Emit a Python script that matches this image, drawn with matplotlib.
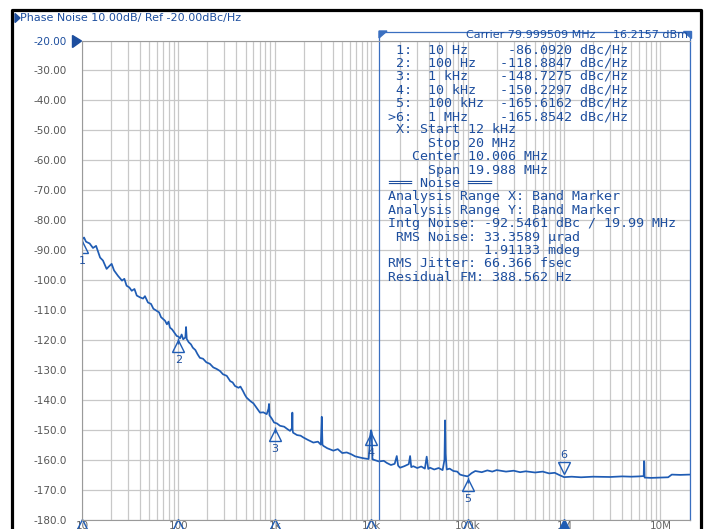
import numpy as np
import matplotlib.pyplot as plt
from matplotlib.transforms import offset_copy
from matplotlib.lines import Line2D
from matplotlib.patches import Polygon

# phase noise trace (Hz, dBc/Hz)
freq = [10, 10.5, 11, 12, 13, 14, 15.4, 16.5, 18, 19, 20.3, 21.5, 23.6, 26, 27.5, 29, 31, 32.8,
        35, 37, 40, 43, 45, 48.3, 52, 55, 59.4, 63, 66, 72.6, 76, 79, 81.7, 86, 90, 96, 100,
        104, 108, 112, 118, 120, 122, 128, 135, 141, 150, 158, 167, 180, 195, 212, 230, 249,
        270, 290, 317, 345, 365, 386, 420, 440, 466, 490, 510, 560, 600, 650, 702, 760, 824,
        860, 871, 880, 930, 982, 1050, 1133, 1250, 1350, 1438, 1510, 1520, 1530, 1546, 1700,
        1850, 1977, 2200, 2508, 2800, 3000, 3067, 3120, 3186, 3500, 4045, 4500, 5000, 5570,
        6200, 6800, 7653, 8500, 9400, 9800, 9952, 10100, 10300, 10500, 12000, 13500, 14500,
        16000, 17500, 18400, 19000, 19900, 22000, 24500, 25300, 26000, 27300, 30000, 33000,
        36000, 37600, 39000, 40700, 45000, 50000, 55000, 57500, 58300, 59000, 60700, 65000,
        71100, 78000, 83400, 90000, 100000, 110000, 120000, 140000, 160000, 180000, 200000,
        250000, 300000, 350000, 400000, 500000, 600000, 700000, 800000, 900000, 1000000,
        1200000, 1500000, 2000000, 3000000, 4000000, 5000000, 6000000, 6700000, 6750000,
        6800000, 6850000, 8000000, 10000000, 12000000, 13100000, 16000000, 20000000]
level = [-86.5, -85.8, -87.2, -87.8, -89.3, -88.6, -92.5, -93.5, -96.3, -95.5, -94.6, -96.8,
         -98.6, -100.2, -99.6, -101.9, -102.5, -103.6, -103.0, -105.2, -105.8, -106.2, -105.4,
         -107.5, -108.0, -109.6, -110.3, -110.8, -112.4, -113.6, -114.8, -113.9, -115.9,
         -116.5, -117.4, -118.7, -118.9, -119.5, -118.2, -119.8, -119.2, -115.7, -119.7,
         -120.8, -121.5, -122.6, -123.4, -124.8, -126.0, -126.3, -127.5, -128.0, -129.2,
         -129.7, -130.4, -131.5, -132.0, -133.8, -134.2, -135.4, -136.0, -135.6, -137.0,
         -138.4, -139.3, -140.5, -141.2, -142.8, -144.3, -144.2, -144.8, -143.0, -141.4,
         -145.2, -146.3, -147.6, -147.9, -148.7, -149.0, -149.8, -150.4, -149.5, -144.3,
         -150.2, -151.0, -151.8, -152.0, -152.6, -153.4, -154.3, -154.0, -155.0, -145.7,
         -155.0, -155.4, -156.2, -157.0, -156.5, -157.8, -157.6, -158.2, -158.9, -159.3,
         -159.6, -159.8, -151.5, -150.2, -151.0, -159.9, -160.0, -160.6, -160.4, -161.1,
         -161.8, -161.4, -158.8, -162.0, -162.7, -162.2, -161.5, -158.8, -162.5, -162.2,
         -162.8, -162.3, -163.0, -159.0, -163.1, -162.7, -163.3, -162.8, -163.5, -160.0,
         -146.9, -158.0, -163.3, -163.0, -163.8, -164.0, -165.0, -165.3, -165.6, -164.5,
         -163.8, -164.2, -163.6, -164.0, -163.5, -164.0, -163.7, -164.2, -163.9, -164.3,
         -164.0, -164.6, -164.4, -165.2, -165.85, -165.7, -165.9, -165.7, -165.8, -165.6,
         -165.7, -165.6, -165.5, -160.5, -160.8, -166.0, -166.1, -166.0, -165.9, -165.0,
         -165.1, -165.0]

mk_num = ['1', '2', '3', '4', '5', '6']
mk_freq = [10, 100, 1e3, 10e3, 100e3, 1e6]
mk_level = [-86.0920, -118.8847, -148.7275, -150.2297, -165.6162, -165.8542]
mk_freq_txt = ['10 Hz', '100 Hz', '1 kHz', '10 kHz', '100 kHz', '1 MHz']

band = [12e3, 20e6]

y_ticks = list(range(-20, -181, -10))
y_labels = ['-20.00', '-30.00', '-40.00', '-50.00', '-60.00', '-70.00', '-80.00', '-90.00',
            '-100.0', '-110.0', '-120.0', '-130.0', '-140.0', '-150.0', '-160.0', '-170.0', '-180.0']
x_ticks = [10, 100, 1e3, 1e4, 1e5, 1e6, 1e7]
x_labels = ['10', '100', '1k', '10k', '100k', '1M', '10M']

info = [' X: Start 12 kHz',
        '     Stop 20 MHz',
        '   Center 10.006 MHz',
        '     Span 19.988 MHz',
        '\u2550\u2550\u2550 Noise \u2550\u2550\u2550',
        'Analysis Range X: Band Marker',
        'Analysis Range Y: Band Marker',
        'Intg Noise: -92.5461 dBc / 19.99 MHz',
        ' RMS Noise: 33.3589 \u00b5rad',
        '            1.91133 mdeg',
        'RMS Jitter: 66.366 fsec',
        'Residual FM: 388.562 Hz']

blue = '#1f5cb4'
tblue = '#1d4e9e'
grey = '#c8c8c8'
W, H = 704, 529

def px(x, y):
    return (x / W, 1 - y / H)

fig = plt.figure(figsize=(W / 100, H / 100), dpi=100)
ax = fig.add_axes([82 / W, 1 - 519.5 / H, (689.5 - 82) / W, (519.5 - 40.5) / H])
ax.set_xscale('log')
ax.set_xlim(10, 20e6)
ax.set_ylim(-180, -20)

ax.set_yticks(y_ticks, y_labels)
ax.set_xticks(x_ticks, x_labels)
ax.xaxis.set_minor_formatter(plt.NullFormatter())
ax.grid(True, which='both', axis='x', color=grey, lw=0.9)
ax.grid(True, which='major', axis='y', color=grey, lw=0.9)
ax.set_axisbelow(True)
ax.tick_params(which='both', length=0)
ax.tick_params(axis='y', pad=11, labelsize=7.5, labelcolor='#555555')
ax.tick_params(axis='x', pad=1, labelsize=7.5, labelcolor='#666666')
ax.get_yticklabels()[0].set_color(tblue)
for s in ['left', 'top', 'bottom']:
    ax.spines[s].set_color('#9a9a9a')
ax.spines['right'].set_visible(False)

ax.plot(freq, level, color=blue, lw=1.25)

# band marker box
top = -20 + 8.5 / 2.994
ax.plot([band[0], band[0], band[1], band[1]], [-180, top, top, -180], color='#3a6fc0',
        lw=0.9, clip_on=False)

def off(dx, dy):
    return offset_copy(ax.transData, fig=fig, x=dx * 0.72, y=-dy * 0.72, units='points')

# trace markers
for i, (n, f, v) in enumerate(zip(mk_num, mk_freq, mk_level)):
    if n == '6':
        ax.plot(f, v, marker='v', ms=8, mfc='none', mec=blue, mew=1.0, transform=off(0, -9))
        ax.text(f, v, n, transform=off(0, -22), color=tblue, fontsize=8, ha='center', va='center')
        ax.plot(f, -180, marker='^', ms=8, color=blue, transform=off(0, 5), clip_on=False)
    else:
        ax.plot(f, v, marker='^', ms=8, mfc='none', mec=blue, mew=1.0, transform=off(0, 9))
        ax.plot(f, v, marker='|', ms=5, color=blue, mew=1.0, transform=off(0, 4))
        ax.text(f, v, n, transform=off(0, 23), color=tblue, fontsize=8, ha='center', va='center')
        ax.plot(f, -180, marker='^', ms=8, mfc='none', mec=blue, mew=1.0, transform=off(0, 5),
                clip_on=False)

# marker table and noise readout
rows = []
for n, ft, v in zip(mk_num, mk_freq_txt, mk_level):
    idx = ('>' if n == '6' else ' ') + n + ':'
    rows.append(f"{idx}  {ft:<8} {v:>9.4f} dBc/Hz")
rows += info
for i, r in enumerate(rows):
    fig.text(*px(388.3, 49.7 + 13.38 * i), r, family='DejaVu Sans Mono', fontsize=9.6,
             color=tblue, ha='left', va='center')

fig.text(*px(595, 34.5), 'Carrier 79.999509 MHz', fontsize=8, color=tblue, ha='right', va='center')
fig.text(*px(688, 34.5), '16.2157 dBm', fontsize=8, color=tblue, ha='right', va='center')
fig.add_artist(Polygon([px(379, 31), px(387, 31), px(379, 38)], closed=True, color='#3a6fc0',
                       transform=fig.transFigure))
fig.add_artist(Polygon([px(683, 31), px(691, 31), px(691, 38)], closed=True, color='#3a6fc0',
                       transform=fig.transFigure))

# header and reference pointer
fig.add_artist(Polygon([px(15, 13.5), px(20, 18), px(15, 22.5)], closed=True, color=tblue,
                       transform=fig.transFigure))
fig.text(*px(20.5, 18.3), 'Phase Noise 10.00dB/ Ref -20.00dBc/Hz', fontsize=8, color=tblue,
         ha='left', va='center')
fig.add_artist(Polygon([px(72.5, 35.5), px(81.5, 41), px(72.5, 47.5)], closed=True, color=tblue,
                       transform=fig.transFigure))

# outer black frame
fig.add_artist(Line2D([12 / W, 12 / W, 701 / W, 701 / W], [0, 1 - 10 / H, 1 - 10 / H, 0],
                      color='black', lw=2.3, transform=fig.transFigure))

fig.savefig('out.png', dpi=100)
